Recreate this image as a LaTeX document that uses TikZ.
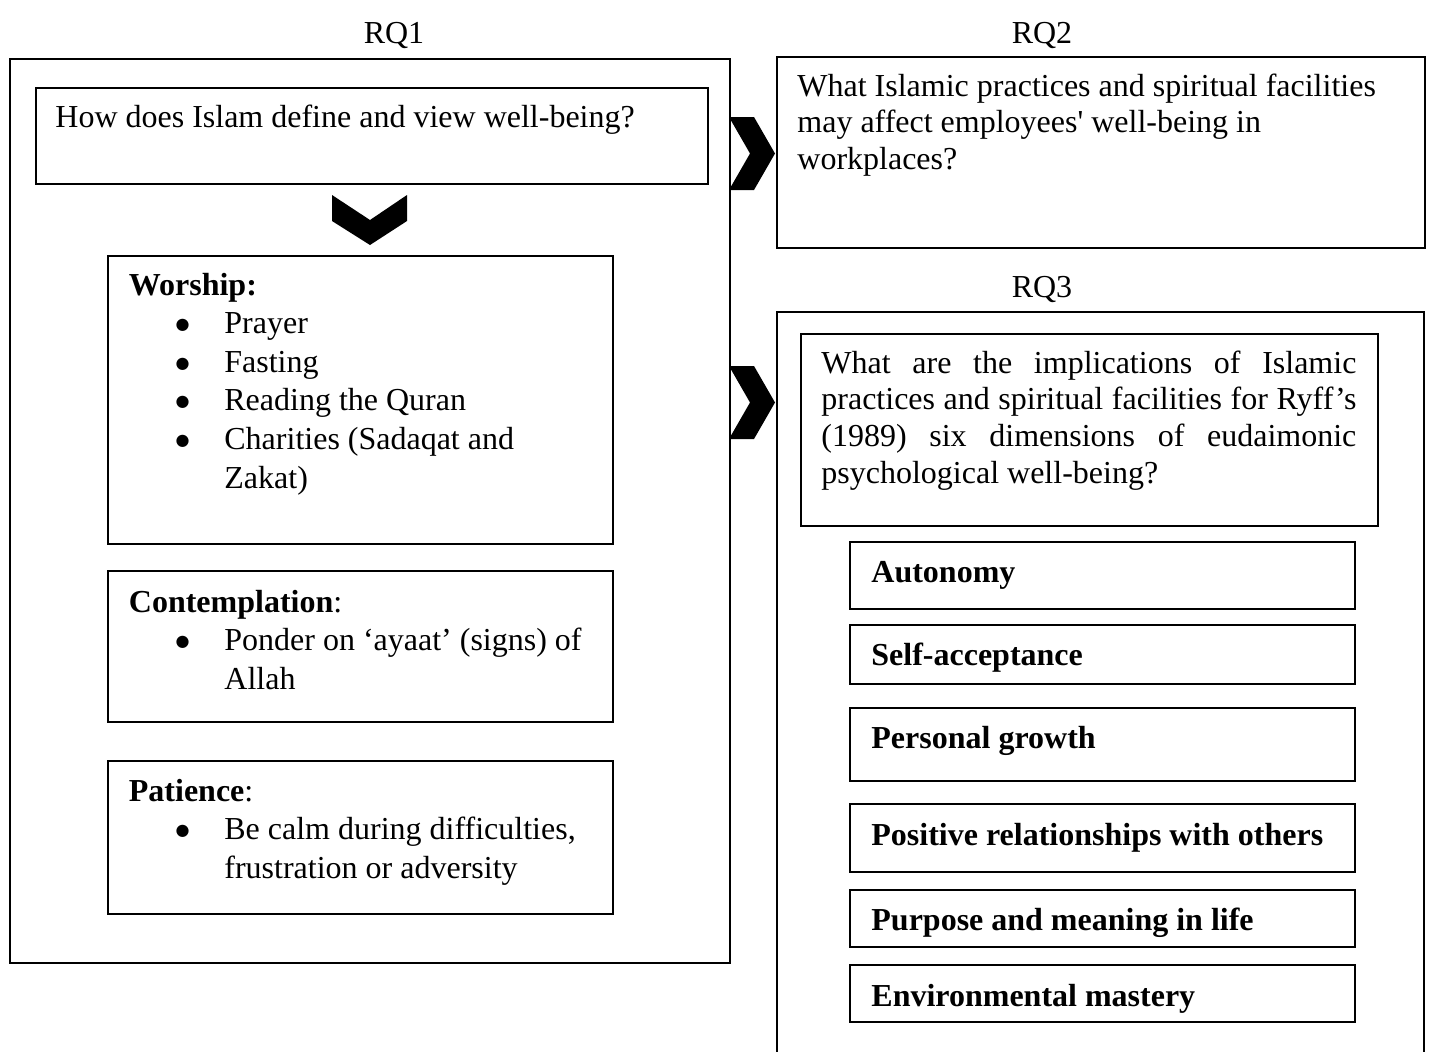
\documentclass[tikz,border=0pt]{standalone}
\usepackage{fontspec}
\setmainfont{Liberation Serif}
\newfontfamily\symbolschrift{DejaVu Sans}
\tikzset{rahmen/.style = {
    shape = rectangle, draw = black, line width = 1.1pt,
    anchor = north west, inner sep = 0pt
}}
\tikzset{schrift/.style = {
    anchor = base west, inner sep = 0pt, align = flush left,
    font = \fontsize{16pt}{19.3pt}\selectfont
}}
\tikzset{titel/.style = {
    anchor = base, inner sep = 0pt, font = \fontsize{16pt}{19.3pt}\selectfont
}}
\tikzset{pfeil/.style = {fill = black}}
\newcommand{\aufzpunkt}[1]{\par\hangindent=47.75pt\hangafter=0\noindent
  \llap{\raisebox{2pt}{\symbolschrift\fontsize{8pt}{0pt}\selectfont ●}\hspace{17.4pt}}#1\par}

\begin{document}
\begin{tikzpicture}[x=0.5pt, y=-0.5pt]
  \useasboundingbox (0,0) rectangle (1429,1051);
  \clip (0,0) rectangle (1429,1051);
  % RQ1
  \node (l1) at (394,43) [titel] {RQ1};
  \node (rq1) at (9,58) [rahmen, minimum width=360pt, minimum height=452pt] {};
  \node (f1) at (35,87) [rahmen, minimum width=336pt, minimum height=48pt] {};
  \node (f1t) at (55,127) [schrift] {How does Islam define and view well-being?};
  \node (anb) at (107,255) [rahmen, minimum width=252.5pt, minimum height=144pt] {};
  \node (anbt) at (128.5,295) [schrift, text width=231pt] {\textbf{Worship:}
    \aufzpunkt{Prayer}
    \aufzpunkt{Fasting}
    \aufzpunkt{Reading the Quran}
    \aufzpunkt{Charities (Sadaqat and\newline Zakat)}};
  \node (bes) at (107,570) [rahmen, minimum width=252.5pt, minimum height=75.5pt] {};
  \node (best) at (128.5,612) [schrift, text width=231pt] {\textbf{Contemplation}:
    \aufzpunkt{Ponder on ‘ayaat’ (signs) of\newline Allah}};
  \node (ged) at (107,760) [rahmen, minimum width=252.5pt, minimum height=76.5pt] {};
  \node (gedt) at (128.5,801) [schrift, text width=231pt] {\textbf{Patience}:
    \aufzpunkt{Be calm during difficulties,\newline frustration or adversity}};
  % RQ2
  \node (l2) at (1042,43) [titel] {RQ2};
  \node (rq2) at (776,56) [rahmen, minimum width=324pt, minimum height=95.5pt] {};
  \node (rq2t) at (797,96) [schrift, text width=310pt,
    font=\fontsize{16pt}{18.35pt}\selectfont] {What Islamic practices and spiritual facilities\\
    may affect employees\textquotesingle{} well-being in\\ workplaces?};
  % RQ3
  \node (l3) at (1042,297) [titel] {RQ3};
  \node (rq3) at (776,311) [rahmen, minimum width=323.5pt, minimum height=390pt] {};
  \node (f3) at (800,333) [rahmen, minimum width=288.5pt, minimum height=96pt] {};
  \node (f3t) at (821,373) [schrift, text width=267.5pt, align=justify,
    font=\fontsize{16pt}{18.35pt}\selectfont] {\hyphenpenalty=10000
    What are the implications of Islamic\linebreak
    practices and spiritual facilities for Ryff’s\linebreak
    (1989) six dimensions of eudaimonic\linebreak
    psychological well-being?};
  \foreach \n/\o/\h/\b/\t in {auto/541/33.5pt/582/Autonomy,
      selbst/624/29.5pt/665/Self-acceptance,
      wachs/707/36.5pt/748/Personal growth,
      bezug/803/34pt/845/Positive relationships with others,
      sinn/889/28.5pt/930/Purpose and meaning in life,
      umwelt/964/28.5pt/1006/Environmental mastery} {
    \node (\n) at (849,\o) [rahmen, minimum width=252.5pt, minimum height=\h] {};
    \node (\n-t) at (871,\b) [schrift, font=\fontsize{16pt}{19.3pt}\selectfont\bfseries] {\t};
  }
  % Pfeile
  \fill[pfeil] (332,195) -- (370,220) -- (407,195) -- (407,221) -- (370,245) -- (332,221) -- cycle;
  \foreach \y in {117,366} {
    \fill[pfeil] (729,\y) -- (754,\y) -- (775,\y+36.5) -- (754,\y+73) -- (729,\y+73) -- (750,\y+36.5) -- cycle;
  }
\end{tikzpicture}
\end{document}
